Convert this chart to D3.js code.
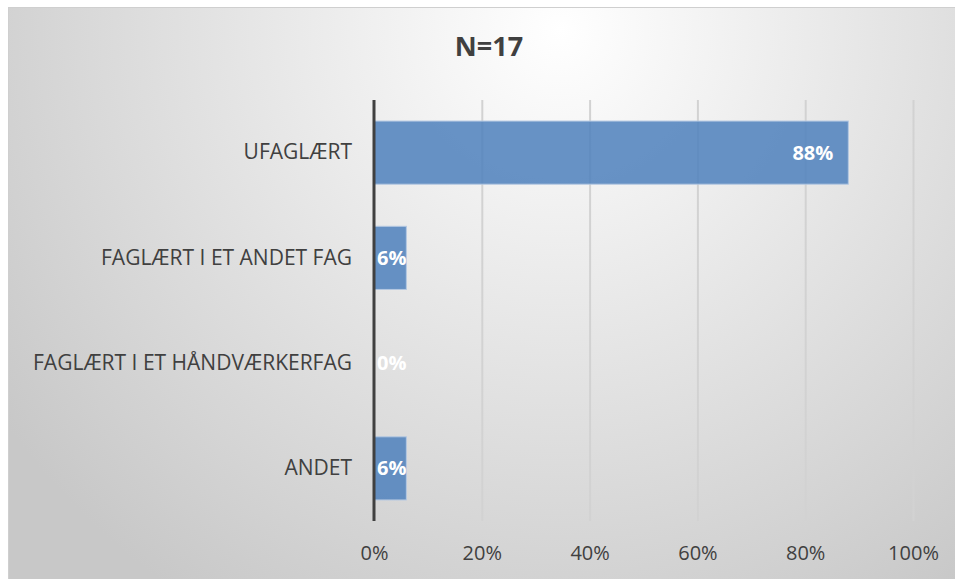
<!DOCTYPE html>
<html>
<head>
<meta charset="utf-8">
<script src="https://cdn.jsdelivr.net/npm/d3@7"></script>
<style>
  body { margin: 0; background: #fff; }
  svg { display: block; }
  text { font-family: "Open Sans", "Noto Sans", sans-serif; }
</style>
</head>
<body>
<div id="chart"></div>
<script>
(function() {

	var categories = ["UFAGLÆRT", "FAGLÆRT I ET ANDET FAG", "FAGLÆRT I ET HÅNDVÆRKERFAG", "ANDET"],
		values = [0.88, 0.06, 0, 0.06],
		ticks = [0, 0.2, 0.4, 0.6, 0.8, 1],
		title = "N=17";

	var width = 955,
		height = 579,
		plotLeft = 374,
		plotRight = 913,
		plotTop = 100,
		plotBottom = 521;

	var svg = d3.select('#chart').append('svg')
		.attr('width', width)
		.attr('height', height);

	var defs = svg.append('defs');

	var bg = defs.append('radialGradient')
		.attr('id', 'bg')
		.attr('gradientUnits', 'userSpaceOnUse')
		.attr('cx', 560).attr('cy', 30).attr('r', 680);
	bg.append('stop').attr('offset', '0%').attr('stop-color', '#ffffff');
	bg.append('stop').attr('offset', '100%').attr('stop-color', '#c8c8c8');

	var grid = defs.append('linearGradient')
		.attr('id', 'grid')
		.attr('gradientUnits', 'userSpaceOnUse')
		.attr('x1', 0).attr('y1', plotTop).attr('x2', 0).attr('y2', plotBottom);
	grid.append('stop').attr('offset', '0%').attr('stop-color', '#d2d2d2');
	grid.append('stop').attr('offset', '100%').attr('stop-color', '#7e7e7e');

	// bakgrunn + ramme
	svg.append('rect')
		.attr('x', 8.5).attr('y', 7.5)
		.attr('width', width - 8).attr('height', height - 7)
		.attr('fill', 'url(#bg)')
		.attr('stroke', '#cfcfcf');

	var x = d3.scaleLinear().domain([0, 1]).range([plotLeft, plotRight]);
	var y = d3.scaleBand().domain(categories).range([plotTop, plotBottom]).paddingInner(0.4).paddingOuter(0.2);

	// rutenett
	svg.append('g')
		.attr('transform', 'translate(0,' + plotBottom + ')')
		.call(d3.axisBottom(x).tickValues(ticks.slice(1)).tickSize(-(plotBottom - plotTop)).tickFormat(''))
		.call(function(g) { g.select('.domain').remove(); })
		.selectAll('line')
			.attr('stroke', 'url(#grid)')
			.attr('stroke-width', 2);

	// x-akse etiketter
	svg.append('g')
		.attr('transform', 'translate(0,' + plotBottom + ')')
		.call(d3.axisBottom(x).tickValues(ticks).tickSize(0).tickPadding(25).tickFormat(d3.format('.0%')))
		.call(function(g) { g.select('.domain').remove(); })
		.selectAll('text')
			.attr('fill', '#404040')
			.style('font-size', '20px');

	// stolper
	svg.append('g').selectAll('rect')
		.data(values)
		.join('rect')
			.attr('x', x(0))
			.attr('y', function(d, i) { return y(categories[i]); })
			.attr('width', function(d) { return x(d) - x(0); })
			.attr('height', y.bandwidth())
			.attr('fill', '#4f81bd')
			.attr('fill-opacity', 0.86)
			.attr('stroke', function(d) { return d > 0 ? '#b4c8e2' : 'none'; })
			.attr('stroke-width', 1);

	// kategori-etiketter
	svg.append('g')
		.attr('transform', 'translate(' + (plotLeft - 22) + ',0)')
		.call(d3.axisLeft(y).tickSize(0).tickPadding(0))
		.call(function(g) { g.select('.domain').remove(); })
		.selectAll('text')
			.attr('fill', '#404040')
			.style('font-size', '21px');

	// verdi-etiketter
	var labels = svg.append('g').selectAll('text')
		.data(values)
		.join('text')
			.attr('y', function(d, i) { return y(categories[i]) + y.bandwidth() / 2; })
			.attr('dy', '0.35em')
			.attr('text-anchor', 'end')
			.attr('fill', '#ffffff')
			.style('font-size', '20px')
			.style('font-weight', 'bold')
			.text(function(d) { return d3.format('.0%')(d); });
	labels.attr('x', function(d) {
		var w = this.getComputedTextLength();
		return Math.max(x(d) - 15, x(0) + 3 + w);
	});

	// null-akse
	svg.append('line')
		.attr('x1', x(0)).attr('x2', x(0))
		.attr('y1', plotTop).attr('y2', plotBottom)
		.attr('stroke', '#404040')
		.attr('stroke-width', 3);

	// tittel
	svg.append('text')
		.attr('x', 489).attr('y', 47)
		.attr('dy', '0.35em')
		.attr('text-anchor', 'middle')
		.attr('fill', '#404040')
		.style('font-size', '27px')
		.style('font-weight', 'bold')
		.text(title);

})();
</script>
</body>
</html>
